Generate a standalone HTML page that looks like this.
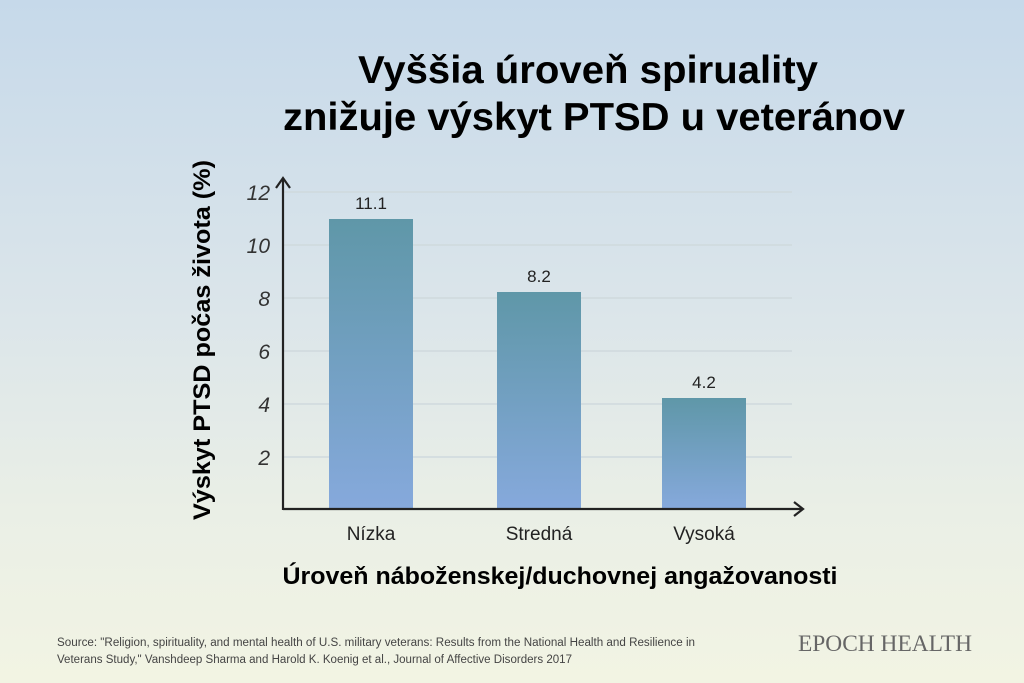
<!DOCTYPE html>
<html><head><meta charset="utf-8"><style>
html,body{margin:0;padding:0}
body{width:1024px;height:683px;overflow:hidden;background:linear-gradient(180deg,#c6d9ea 0%,#dbe5ea 45%,#eaefe6 75%,#f2f4e3 100%);font-family:"Liberation Sans",sans-serif}
</style></head><body>
<svg width="1024" height="683" xmlns="http://www.w3.org/2000/svg" style="position:absolute;left:0;top:0">
<defs>
<linearGradient id="g" x1="0" y1="0" x2="0" y2="1">
<stop offset="0" stop-color="#5f97a8"/><stop offset="1" stop-color="#86a9dc"/>
</linearGradient>
</defs>
<g font-family="Liberation Sans, sans-serif">
<text x="588" y="83" text-anchor="middle" font-size="39" font-weight="bold" fill="#000" textLength="460" lengthAdjust="spacingAndGlyphs">Vyššia úroveň spiruality</text>
<text x="594" y="130" text-anchor="middle" font-size="39" font-weight="bold" fill="#000" textLength="622" lengthAdjust="spacingAndGlyphs">znižuje výskyt PTSD u veteránov</text>
<g stroke="#cfd9dd" stroke-width="1.5">
<line x1="283" y1="192" x2="792" y2="192"/>
<line x1="283" y1="245" x2="792" y2="245"/>
<line x1="283" y1="298" x2="792" y2="298"/>
<line x1="283" y1="351" x2="792" y2="351"/>
<line x1="283" y1="404" x2="792" y2="404"/>
<line x1="283" y1="457" x2="792" y2="457"/>
</g>
<g font-size="21" font-style="italic" fill="#333" text-anchor="end">
<text x="270" y="200">12</text><text x="270" y="253">10</text><text x="270" y="306">8</text>
<text x="270" y="359">6</text><text x="270" y="412">4</text><text x="270" y="465">2</text>
</g>
<rect x="329" y="219" width="84" height="290" fill="url(#g)"/>
<rect x="497" y="292" width="84" height="217" fill="url(#g)"/>
<rect x="662" y="398" width="84" height="111" fill="url(#g)"/>
<g font-size="17" fill="#222" text-anchor="middle">
<text x="371" y="209">11.1</text><text x="539" y="282">8.2</text><text x="704" y="388">4.2</text>
</g>
<g font-size="19" fill="#222" text-anchor="middle">
<text x="371" y="540">Nízka</text><text x="539" y="540">Stredná</text><text x="704" y="540">Vysoká</text>
</g>
<g stroke="#222" stroke-width="2.2" fill="none">
<line x1="283" y1="510" x2="283" y2="178"/>
<polyline points="276,188 283,178 290,188"/>
<line x1="283" y1="509" x2="802" y2="509"/>
<polyline points="794,502 803,509 794,516"/>
</g>
<text transform="translate(210,340) rotate(-90)" text-anchor="middle" font-size="24" font-weight="bold" fill="#000" textLength="360" lengthAdjust="spacingAndGlyphs">Výskyt PTSD počas života (%)</text>
<text x="560" y="584" text-anchor="middle" font-size="24" font-weight="bold" fill="#000" textLength="555" lengthAdjust="spacingAndGlyphs">Úroveň náboženskej/duchovnej angažovanosti</text>
<g font-size="11.5" fill="#444">
<text x="57" y="646" textLength="638" lengthAdjust="spacingAndGlyphs">Source: "Religion, spirituality, and mental health of U.S. military veterans: Results from the National Health and Resilience in</text>
<text x="57" y="663" textLength="515" lengthAdjust="spacingAndGlyphs">Veterans Study," Vanshdeep Sharma and Harold K. Koenig et al., Journal of Affective Disorders 2017</text>
</g>
<text x="885" y="651" text-anchor="middle" font-family="Liberation Serif, serif" font-size="23" fill="#666" textLength="174" lengthAdjust="spacingAndGlyphs">EPOCH HEALTH</text>
</g>
</svg>
</body></html>
